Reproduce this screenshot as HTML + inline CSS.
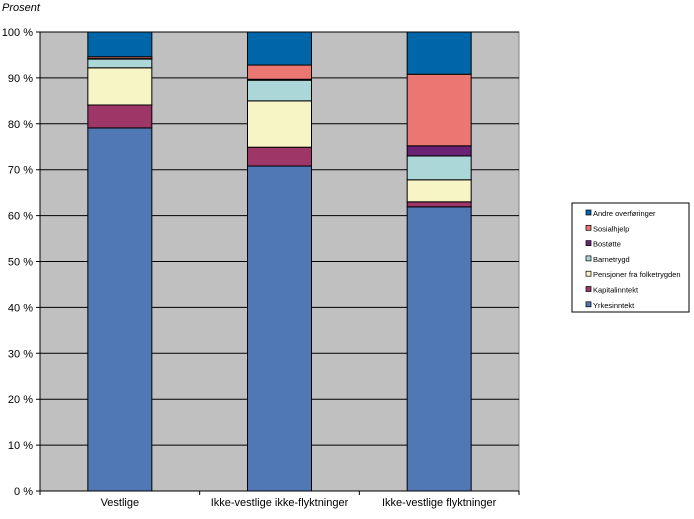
<!DOCTYPE html>
<html><head><meta charset="utf-8"><style>
body{margin:0;background:#fff;font-family:"Liberation Sans",sans-serif}
svg text{font-family:"Liberation Sans",sans-serif}
</style></head><body>
<svg id="c" width="694" height="514"></svg>
<script>
const categories=["Vestlige","Ikke-vestlige ikke-flyktninger","Ikke-vestlige flyktninger"];
const seriesNames=["Yrkesinntekt","Kapitalinntekt","Pensjoner fra folketrygden","Barnetrygd","Bostøtte","Sosialhjelp","Andre overføringer"];
const yrkes=[79.1,70.8,61.9];
const kapital=[5.0,4.1,1.1];
const pensjoner=[8.1,10.1,4.8];
const barnetrygd=[1.9,4.5,5.2];
const bostotte=[0.1,0.2,2.2];
const sosial=[0.4,3.1,15.6];
const andre=[5.4,7.2,9.2];
const yTicks=[0,10,20,30,40,50,60,70,80,90,100];
const series=[yrkes,kapital,pensjoner,barnetrygd,bostotte,sosial,andre];
const colors=["#4f78b5","#9e3768","#f7f5c6","#acd7d9","#6a2374","#ea7772","#0066aa"];
const ns="http://www.w3.org/2000/svg",svg=document.getElementById("c");
const L=40,R=519,T=32,B=491;
const y=v=>B-(v/100)*(B-T);
const cw=(R-L)/categories.length;
const x=i=>L+cw*(i+0.5);
function mk(t,a,p){const e=document.createElementNS(ns,t);for(const k in a)e.setAttribute(k,a[k]);(p||svg).appendChild(e);return e;}
let r=mk("rect",{x:L,y:T,width:R-L,height:B-T,fill:"#c0c0c0",stroke:"#808080"});


yTicks.forEach(v=>{
 let l=mk("line",{x1:L-4,x2:R,y1:y(v),y2:y(v),stroke:"#000","stroke-width":1});
 
 
 let t=mk("text",{x:L-7,y:y(v)+4,"text-anchor":"end","font-size":11});
 t.textContent=v+" %";
 
 
});
let yt=mk("text",{x:2,y:11,"font-size":11,"font-style":"italic"});yt.textContent="Prosent";


mk("line",{x1:L,x2:L,y1:T,y2:B,stroke:"#000"});
mk("line",{x1:L,x2:R,y1:B,y2:B,stroke:"#000"});
categories.forEach((c,i)=>{
 let cum=0;
 series.forEach((s,j)=>{
  const v=s[i];
  let b=mk("rect",{x:x(i)-32,y:y(cum+v),width:64,height:y(cum)-y(cum+v),fill:colors[j],stroke:"#000","stroke-width":1});
  
  
  cum+=v;
 });
 let tk=mk("line",{x1:L+cw*(i+1),x2:L+cw*(i+1),y1:B,y2:B+4,stroke:"#000"});
 let t=mk("text",{x:x(i),y:B+15,"text-anchor":"middle","font-size":11});
 t.textContent=c;
 
 
});
mk("line",{x1:L,x2:L,y1:B,y2:B+4,stroke:"#000"});
let lg=mk("g",{});


mk("rect",{x:572,y:203,width:117,height:109,fill:"#fff",stroke:"#000"},lg);
for(let j=0;j<7;j++){
 const k=6-j, yy=213+j*15.3;
 mk("rect",{x:586,y:yy-3,width:5,height:5,fill:colors[k],stroke:"#000","stroke-width":0.7},lg);
 let t=mk("text",{x:593,y:yy+3,"font-size":7.5},lg);
 t.textContent=seriesNames[k];
 
 
}
</script>
</body></html>
